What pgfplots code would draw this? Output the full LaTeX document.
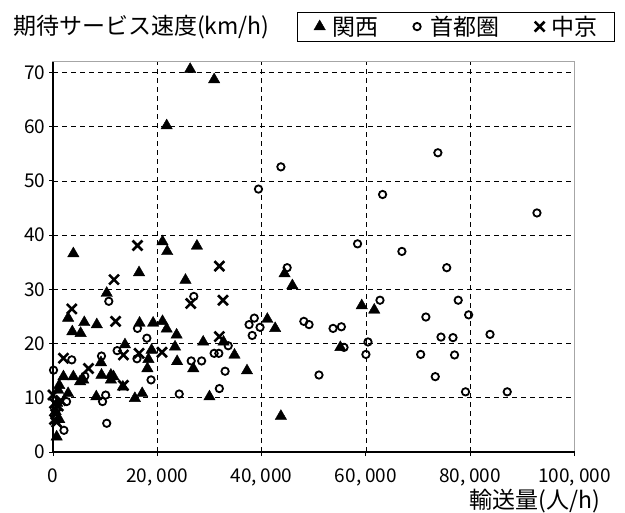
\documentclass[border=0pt]{standalone}
\usepackage{fontspec}
\setmainfont{Noto Sans CJK JP}
\usepackage{pgfplots}
\usepackage{pgfplotstable}
\pgfplotsset{compat=1.18}

% 関西
\pgfplotstableread{
x y
26300 70.6
30900 68.7
21800 60.2
3900 36.6
21000 38.8
21900 37.0
27600 38.0
16500 33.1
25400 31.7
10300 29.3
44400 32.9
45900 30.7
59200 27.0
61600 26.2
2900 24.7
6000 23.9
8400 23.5
3700 22.2
5300 21.9
16600 23.8
19200 23.8
21000 24.1
21800 22.7
23700 21.6
41100 24.5
42600 22.8
13800 19.8
23400 19.4
18900 18.8
18300 17.1
18100 15.4
23800 16.7
26900 15.4
28800 20.3
32700 20.3
34800 17.9
37200 15.0
30000 10.2
55100 19.3
43700 6.6
9200 16.5
2000 13.9
3900 13.9
5800 13.3
9300 14.2
11100 14.2
5200 13.0
11100 13.3
11600 13.9
13400 12.0
15700 9.9
17100 10.8
8300 10.2
1000 11.4
2900 10.8
700 2.8
1200 12.3
500 7.5
800 9.0
1200 6.0
}\kansai

% 首都圏
\pgfplotstableread{
x y
43700 52.6
39400 48.5
73800 55.2
63200 47.5
92800 44.1
58400 38.4
66900 37.0
75500 34.0
44900 34.0
62700 28.0
77700 28.0
79700 25.3
71500 24.9
48100 24.1
49100 23.5
53700 22.8
55300 23.1
83800 21.7
74400 21.2
76700 21.1
60400 20.3
55800 19.3
60000 18.0
70500 18.0
77000 17.9
51000 14.2
73300 13.9
79100 11.1
87100 11.1
38600 24.7
37600 23.5
39700 23.0
38200 21.5
33600 19.6
30900 18.2
31800 18.2
28500 16.8
33000 14.9
31900 11.7
27000 28.7
10700 27.8
16200 22.8
18000 21.0
12300 18.7
16100 17.2
9300 17.7
3600 17.0
100 15.1
6100 14.0
26500 16.8
18800 13.3
24200 10.7
10100 10.5
9500 9.3
2600 9.3
10300 5.3
2100 4.0
}\shutoken

% 中京
\pgfplotstableread{
x y
16200 38.1
31900 34.3
11700 31.8
26400 27.4
32600 28.0
3600 26.4
12000 24.1
31900 21.3
13500 17.9
16500 18.2
20900 18.4
2000 17.3
6800 15.4
13500 12.3
0 10.5
300 9.0
500 7.0
300 6.0
700 5.5
1000 8.5
1500 9.5
}\chukyo

\begin{document}
\begin{tikzpicture}
\begin{axis}[
    scale only axis,
    width=521.5bp, height=390.3bp,
    xmin=0, xmax=100000, ymin=0, ymax=72,
    xtick={0,20000,40000,60000,80000,100000},
    xticklabels={0,{20,\kern.2em000},{40,\kern.2em000},{60,\kern.2em000},{80,\kern.2em000},{100,\kern.2em000}},
    ytick={0,10,...,70},
    scaled x ticks=false,
    /pgf/number format/assume math mode=true,
    tick label style={font=\fontsize{19bp}{22bp}\selectfont},
    xticklabel style={yshift=-9bp},
    xtick pos=bottom, ytick pos=left,
    tick align=outside, major tick length=4bp,
    tick style={black, line width=1bp},
    grid=major,
    major grid style={black, line width=0.8bp, dash pattern=on 5bp off 4bp},
    axis line style={gray!70, line width=1.2bp},
    clip=false,
    legend columns=3,
    legend style={at={(1.0777,1.128)}, anchor=north east,
        draw=black, line width=0.8bp,
        font=\fontsize{23bp}{26bp}\selectfont,
        inner xsep=17bp, inner ysep=4bp,
        column sep=0pt,
        nodes={inner sep=0pt}},
    legend image code/.code={\draw[#1] plot coordinates {(0bp,0bp)};},
]
\addplot[only marks, mark=triangle*, mark size=6.6pt,
    mark options={fill=black, draw=black, line width=0.4bp}] table {\kansai};
\addlegendentry{\hspace{7bp}関西\hspace{35bp}\null}
\addplot[only marks, mark=o, mark size=3.7pt,
    mark options={draw=black, line width=1.8bp}] table {\shutoken};
\addlegendentry{\hspace{10bp}首都圏\hspace{35bp}\null}
\addplot[only marks, mark=x, mark size=7pt,
    mark options={draw=black, line width=2.6bp}] table {\chukyo};
\addlegendentry{\hspace{7bp}中京}

\draw[black, line width=1.5bp] (rel axis cs:0,1) -- (rel axis cs:0,0) -- (rel axis cs:1,0);
\node[anchor=west, font=\fontsize{23bp}{26bp}\selectfont, inner sep=0pt]
    at (rel axis cs:-0.0767,1.0876) {期待サービス速度(km/h)};
\node[anchor=east, font=\fontsize{23bp}{26bp}\selectfont, inner sep=0pt]
    at (rel axis cs:1.049,-0.1255) {輸送量(人/h)};
\end{axis}
\path (current axis.south west) ++(-53bp,-61bp) rectangle ++(625bp,513bp);
\end{tikzpicture}
\end{document}
